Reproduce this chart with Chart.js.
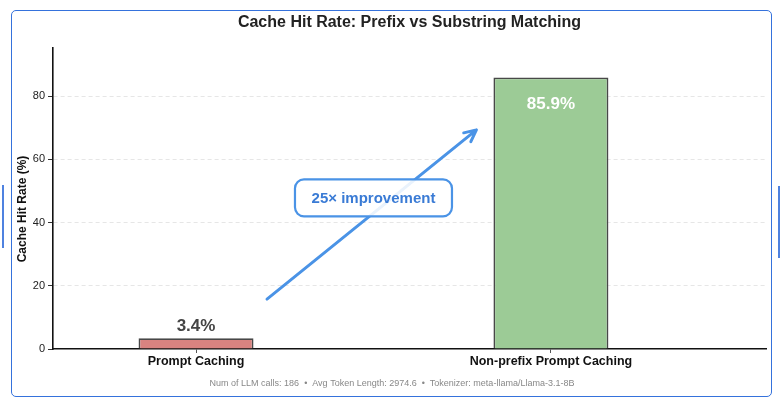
<!DOCTYPE html>
<html>
<head>
<meta charset="utf-8">
<script src="https://cdn.jsdelivr.net/npm/chart.js@4.4.1/dist/chart.umd.min.js"></script>
<style>
  body { margin: 0; background: #fff; }
  #wrap { position: relative; width: 780px; height: 400px; }
  #frame { position: absolute; left: 11px; top: 10px; width: 759px; height: 385px;
           border: 1.5px solid #3572dc; border-radius: 5px; }
  .handle { position: absolute; width: 2px; background: #4f82e0; }
  canvas { position: absolute; left: 0; top: 0; }
</style>
</head>
<body>
<div id="wrap">
  <div id="frame"></div>
  <div class="handle" style="left:2px; top:185px; height:63px;"></div>
  <div class="handle" style="left:778px; top:186px; height:72px;"></div>
  <canvas id="grafik" width="780" height="400"></canvas>
</div>
<script>
const categories = ['Prompt Caching', 'Non-prefix Prompt Caching'];
const hitRates = [3.4, 85.9];
const barColors = ['rgba(217, 131, 128, 1)', 'rgba(156, 203, 150, 1)'];
const yTicks = [0, 20, 40, 60, 80];

const chartTitle = 'Cache Hit Rate: Prefix vs Substring Matching';
const yTitle = 'Cache Hit Rate (%)';
const footerText = 'Num of LLM calls: 186  \u2022  Avg Token Length: 2974.6  \u2022  Tokenizer: meta-llama/Llama-3.1-8B';
const improvementText = '25\u00d7 improvement';
// arrow start/end and box centre in data units (x = category index, y = %)
const arrowFrom = [0.2, 15.8];
const arrowTo = [0.79, 69.3];
const boxAt = [0.5, 47.8];

const extras = {
    id: 'extras',
    afterDatasetsDraw(chart) {
        const ctx = chart.ctx;
        const xs = chart.scales.x;
        const ys = chart.scales.y;
        const area = chart.chartArea;

        ctx.save();
        // bar value labels
        ctx.textAlign = 'center';
        ctx.font = 'bold 17px "Liberation Sans", Arial, sans-serif';
        ctx.fillStyle = '#444';
        ctx.textBaseline = 'bottom';
        ctx.fillText(hitRates[0].toFixed(1) + '%', xs.getPixelForValue(0), ys.getPixelForValue(hitRates[0]) - 3);
        ctx.fillStyle = '#fff';
        ctx.textBaseline = 'middle';
        ctx.fillText(hitRates[1].toFixed(1) + '%', xs.getPixelForValue(1), ys.getPixelForValue(hitRates[1]) + 27);

        // arrow
        const x1 = xs.getPixelForValue(arrowFrom[0]), y1 = ys.getPixelForValue(arrowFrom[1]);
        const x2 = xs.getPixelForValue(arrowTo[0]), y2 = ys.getPixelForValue(arrowTo[1]);
        ctx.strokeStyle = '#4a93e6';
        ctx.lineWidth = 3;
        ctx.lineCap = 'round';
        ctx.lineJoin = 'round';
        ctx.beginPath();
        ctx.moveTo(x1, y1);
        ctx.lineTo(x2, y2);
        const ang = Math.atan2(y2 - y1, x2 - x1);
        const head = 13;
        ctx.moveTo(x2 - head * Math.cos(ang - 0.45), y2 - head * Math.sin(ang - 0.45));
        ctx.lineTo(x2, y2);
        ctx.lineTo(x2 - head * Math.cos(ang + 0.45), y2 - head * Math.sin(ang + 0.45));
        ctx.stroke();

        // label box
        const bx = xs.getPixelForValue(boxAt[0]), by = ys.getPixelForValue(boxAt[1]);
        const bw = 157, bh = 37;
        ctx.beginPath();
        ctx.roundRect(bx - bw / 2, by - bh / 2, bw, bh, 9);
        ctx.fillStyle = 'rgba(255, 255, 255, 0.88)';
        ctx.fill();
        ctx.lineWidth = 2.2;
        ctx.strokeStyle = '#4a93e6';
        ctx.stroke();
        ctx.fillStyle = '#3a7bd5';
        ctx.font = 'bold 15px "Liberation Sans", Arial, sans-serif';
        ctx.textBaseline = 'middle';
        ctx.fillText(improvementText, bx, by + 1);

        // title and footer
        ctx.fillStyle = '#222';
        ctx.font = 'bold 16px "Liberation Sans", Arial, sans-serif';
        ctx.fillText(chartTitle, (area.left + area.right) / 2, 23);
        ctx.fillStyle = '#888';
        ctx.font = '9px "Liberation Sans", Arial, sans-serif';
        ctx.fillText(footerText, 392, 384);

        // y axis title
        ctx.translate(23, 209);
        ctx.rotate(-Math.PI / 2);
        ctx.fillStyle = '#111';
        ctx.font = 'bold 12px "Liberation Sans", Arial, sans-serif';
        ctx.fillText(yTitle, 0, 0);
        ctx.restore();
    }
};

const grafik = document.getElementById('grafik').getContext('2d');
new Chart(grafik, {
    type: 'bar',
    data: {
        datasets: [{
            data: hitRates.map((v, i) => ({ x: i, y: v })),
            backgroundColor: barColors,
            borderColor: '#484848',
            borderWidth: 1.8,
            borderSkipped: 'bottom',
            categoryPercentage: 1,
            barPercentage: 0.324
        }]
    },
    options: {
        responsive: false,
        animation: false,
        layout: { padding: { top: 48, right: 14, bottom: 0, left: 0 } },
        plugins: { legend: { display: false }, tooltip: { enabled: false } },
        scales: {
            x: {
                type: 'linear',
                min: -0.403,
                max: 1.606,
                offset: false,
                afterBuildTicks: axis => { axis.ticks = categories.map((c, i) => ({ value: i })); },
                afterFit: axis => { axis.height = 51; },
                ticks: {
                    callback: v => categories[v],
                    color: '#111',
                    padding: 1,
                    font: { family: '"Liberation Sans", Arial, sans-serif', size: 12.5, weight: 'bold' }
                },
                grid: { offset: false, drawOnChartArea: false, tickLength: 4, tickColor: '#555', tickWidth: 1 },
                border: { color: '#111', width: 1.6 }
            },
            y: {
                min: 0,
                max: 95.2,
                afterBuildTicks: axis => { axis.ticks = yTicks.map(v => ({ value: v })); },
                afterFit: axis => { axis.width = 53; },
                ticks: {
                    color: '#222',
                    padding: 3,
                    font: { family: '"Liberation Sans", Arial, sans-serif', size: 11 }
                },
                grid: {
                    color: c => c.tick && c.tick.value === 0 ? 'rgba(0,0,0,0)' : '#e6e6e6',
                    tickLength: 5,
                    tickColor: '#333',
                    tickBorderDash: [],
                    lineWidth: 1
                },
                border: { color: '#111', width: 1.6, dash: [4, 3] }
            }
        }
    },
    plugins: [extras]
});
</script>
</body>
</html>
